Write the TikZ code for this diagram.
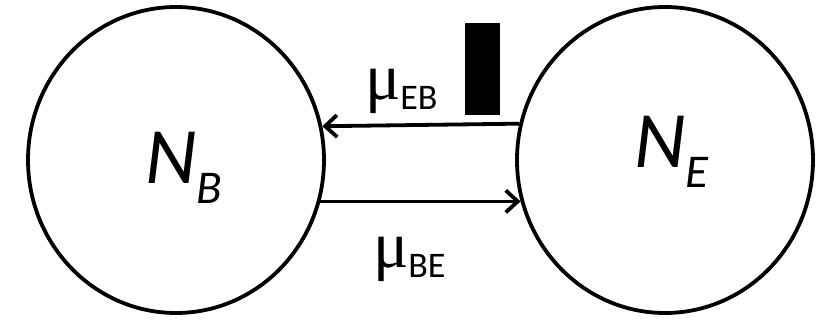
\documentclass[tikz,border=0pt]{standalone}
\usepackage{fontspec}
\setmainfont{Carlito}
\newfontfamily\muserif{Liberation Serif}
\usetikzlibrary{shapes.geometric,arrows.meta}
\tikzset{
  pop/.style={ellipse, draw=black, line width=3.8pt, minimum width=296pt, minimum height=306pt, inner sep=0pt},
  flow/.style={line width=3.8pt, -{Straight Barb[length=12pt,width=22pt,line width=3.8pt]}},
  lab/.style={anchor=base west, inner sep=0pt, outer sep=0pt}
}
\newcommand{\popname}[3]{{\itshape\fontsize{80}{80}\selectfont #1\raisebox{-#3pt}{\fontsize{47}{47}\selectfont #2}}}
\newcommand{\ratename}[1]{{\muserif\fontsize{66}{66}\selectfont \symbol{"03BC}}\raisebox{-10pt}{\fontsize{36}{36}\selectfont #1}}
\begin{document}
\begin{tikzpicture}[x=1pt,y=-1pt]
\useasboundingbox (0,0) rectangle (823,323);
\fill[white] (0,0) rectangle (823,323);
\node[pop] (NB) at (176,160) {};
\node[pop] (NE) at (665,160) {};
\node[lab] (tNB) at (145,184) {\popname{N}{B}{20}};
\node[lab] (tNE) at (634,168) {\popname{N}{E}{20}};
\node[fill=black, inner sep=0pt, minimum width=35pt, minimum height=92pt] (bar) at (482.5,69) {};
\draw[flow] (NE.166.5) -- (NB.13.5);
\draw[flow] (NB.-16.6) -- (NE.196.6);
\node[lab] (mEB) at (365,100) {\ratename{EB}};
\node[lab] (mBE) at (373,268) {\ratename{BE}};
\end{tikzpicture}
\end{document}
